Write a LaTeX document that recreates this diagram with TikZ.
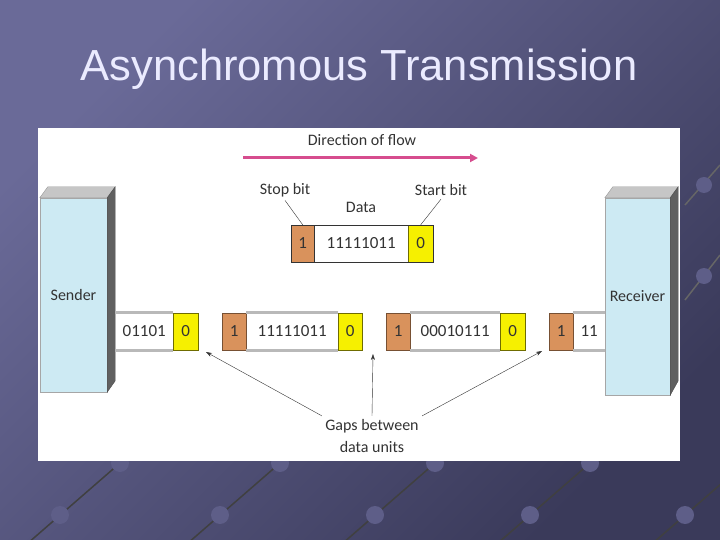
\documentclass[tikz,border=0pt]{standalone}
\usepackage{fontspec}
\setmainfont{Carlito}
\newfontfamily\titlefont{Liberation Sans}
\usetikzlibrary{arrows.meta}

\definecolor{fondA}{HTML}{6A6A98}
\definecolor{fondB}{HTML}{3A3A5A}
\definecolor{bleu}{HTML}{CDEAF3}
\definecolor{stopcol}{HTML}{D9925C}
\definecolor{startcol}{HTML}{F6F000}
\definecolor{flux}{HTML}{D64D8E}
\definecolor{texte}{HTML}{333333}

\begin{document}
\begin{tikzpicture}[x=1pt, y=-1pt,
    font=\fontsize{16}{22}\selectfont, text=texte,
    cell/.style={rectangle, minimum height=37pt, inner sep=0pt, anchor=west, font=\fontsize{17}{20}\selectfont},
    stopcell/.style={cell, fill=stopcol, draw=stopcol!55!black, minimum width=24pt},
    startcell/.style={cell, fill=startcol, draw=startcol!45!black, minimum width=25pt},
    rail/.style={draw=gray!55, line width=3pt},
    station/.style={rectangle, fill=bleu, draw=gray!70, inner sep=0pt},
    pointer/.style={draw=texte, thin},
    gaparrow/.style={draw=texte, thin, -{Stealth[length=6pt, width=4pt]}}]
    \useasboundingbox (0,0) rectangle (720,540);

    % Le fond de la diapositive
    \shade[top color=fondA, bottom color=fondB, shading angle=45] (0,0) rectangle (720,540);
    \foreach \x in {20,180,335,490,645} {
        \draw[black!75, line width=1.5pt] (\x,550) -- ++(115,-100);
        \fill[fondA!75!fondB] (\x+40,515) circle (9);
        \fill[fondA!75!fondB] (\x+100,463) circle (9);
    }
    \draw[black!60, line width=1.5pt] (685,300) -- (720,255);
    \draw[black!60, line width=1.5pt] (685,205) -- (720,165);
    \fill[fondA!75!fondB] (704,276) circle (8);
    \fill[fondA!75!fondB] (704,185) circle (8);

    % Titre
    \node[font=\titlefont\fontsize{43.5}{50}\selectfont, text=white!92!blue] (titre) at (359,69) {Asynchromous Transmission};

    % Le cadre blanc
    \fill[white] (38,128) rectangle (680,461);

    % Sens de transmission
    \node (flowlbl) at (362,140) {Direction of flow};
    \coordinate (flowA) at (243,158);
    \coordinate (flowB) at (478,158);
    \draw[flux, line width=3pt, -{Triangle[length=8pt, width=8pt]}] (flowA) -- (flowB);

    % Une trame isolée
    \node[stopcell, minimum width=23pt] (s0) at (291,243.5) {1};
    \node[cell, draw=texte, minimum width=94pt] (d0) at (314,243.5) {11111011};
    \node[startcell] (t0) at (408,243.5) {0};
    \draw[texte] (s0.north west) rectangle (t0.south east);
    \node (stoplbl) at (285,190) {Stop bit};
    \node (startlbl) at (441,190) {Start bit};
    \node (datalbl) at (361,207) {Data};
    \draw[pointer] (stoplbl.south) -- (s0.north);
    \draw[pointer] (startlbl.south) -- (t0.north);

    % Emetteur et récepteur
    \node[station, minimum width=67pt, minimum height=194pt] (sender) at (73.5,295) {Sender};
    \node[station, minimum width=65pt, minimum height=197pt] (receiver) at (637.5,296.5) {Receiver};
    \foreach \b in {sender, receiver} {
        \fill[gray!45, draw=gray!80] (\b.north west) -- ++(8,-11) -- ([shift={(8,-11)}]\b.north east) -- (\b.north east) -- cycle;
        \fill[gray!75!black, draw=gray!60!black] (\b.north east) -- ++(8,-11) -- ++(0,194) -- (\b.south east) -- cycle;
    }

    % Le flot de trames
    \node[cell, minimum width=58pt] (d1) at (115,331.5) {01101};
    \node[startcell] (t1) at (173,331.5) {0};
    \node[stopcell] (s2) at (222,331.5) {1};
    \node[cell, minimum width=92pt] (d2) at (246,331.5) {11111011};
    \node[startcell, minimum width=24pt] (t2) at (338,331.5) {0};
    \node[stopcell] (s3) at (386,331.5) {1};
    \node[cell, minimum width=90pt] (d3) at (410,331.5) {00010111};
    \node[startcell] (t3) at (500,331.5) {0};
    \node[stopcell] (s4) at (549,331.5) {1};
    \node[cell, minimum width=32pt] (d4) at (573,331.5) {11};
    \foreach \d in {d1,d2,d3,d4} {
        \draw[rail] (\d.north west) -- (\d.north east);
        \draw[rail] (\d.south west) -- (\d.south east);
    }

    % Les intervalles
    \node[align=center] (gapslbl) at (372,436) {Gaps between\\data units};
    \coordinate (gap1) at (206,352);
    \coordinate (gap2) at (373,354);
    \coordinate (gap3) at (542,351);
    \draw[gaparrow] (gapslbl.north west) -- (gap1);
    \draw[gaparrow] (gapslbl.north) -- (gap2);
    \draw[gaparrow] (gapslbl.north east) -- (gap3);
\end{tikzpicture}
\end{document}
